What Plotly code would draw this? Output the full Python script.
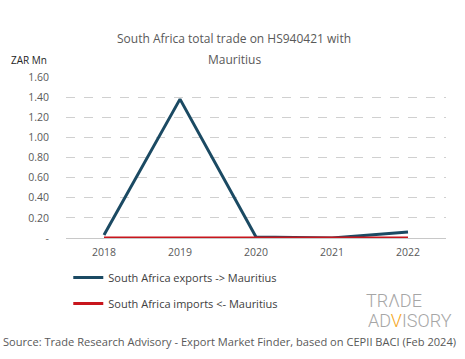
import plotly.graph_objects as go

years = ["2018", "2019", "2020", "2021", "2022"]
exports = [0.03, 1.38, 0.01, 0.0, 0.06]
imports = [0.0, 0.0, 0.005, 0.0, 0.0]
y_ticks = [0, 0.2, 0.4, 0.6, 0.8, 1.0, 1.2, 1.4, 1.6]
y_labels = ["-", "0.20", "0.40", "0.60", "0.80", "1.00", "1.20", "1.40", "1.60"]

FONT = "Open Sans"
fig = go.Figure()
fig.add_trace(go.Scatter(x=years, y=exports, mode="lines", name="South Africa exports -> Mauritius",
                         legendgroup="a", line=dict(color="#1b4a63", width=3)))
fig.add_trace(go.Scatter(x=years, y=imports, mode="lines", name="South Africa imports <- Mauritius",
                         legendgroup="b", line=dict(color="#c8161d", width=3)))

fig.update_layout(
    width=465, height=359,
    margin=dict(l=66, r=19, t=77, b=121),
    paper_bgcolor="white", plot_bgcolor="white",
    font=dict(family=FONT, size=11, color="#595959"),
    showlegend=True,
    legend=dict(x=0.006, y=-0.155, xanchor="left", yanchor="top", orientation="v",
                font=dict(size=11, color="#404040"), tracegroupgap=7, itemwidth=30,
                bgcolor="rgba(0,0,0,0)"),
    xaxis=dict(type="category", range=[-0.5, 4.5], showgrid=False, showline=False, ticks="",
               tickfont=dict(size=10.5, color="#595959"), ticklabelstandoff=6),
    yaxis=dict(range=[0, 1.6], tickvals=y_ticks, ticktext=y_labels, showgrid=True,
               gridcolor="#d0d0d0", griddash="dash", gridwidth=1, zeroline=True,
               zerolinecolor="#c8c8c8", zerolinewidth=1, ticks="", showline=False,
               tickfont=dict(size=10.5, color="#595959"), ticklabelstandoff=16),
)

fig.add_annotation(text="South Africa total trade on HS940421 with", xref="paper", yref="paper",
                   x=0.443, y=(238 - 38) / 161, xanchor="center", yanchor="middle", showarrow=False,
                   font=dict(size=12, color="#595959"))
fig.add_annotation(text="Mauritius", xref="paper", yref="paper",
                   x=0.443, y=(238 - 60) / 161, xanchor="center", yanchor="middle", showarrow=False,
                   font=dict(size=12, color="#595959"))
fig.add_annotation(text="ZAR Mn", xref="paper", yref="paper",
                   x=-57 / 380, y=(238 - 60) / 161, xanchor="left", yanchor="middle", showarrow=False,
                   font=dict(size=10, color="#262626"))
fig.add_annotation(text="TRΛDE", xref="paper", yref="paper",
                   x=(364 - 66) / 380, y=(238 - 300) / 161, xanchor="left", yanchor="middle",
                   showarrow=False, font=dict(size=18, color="#a6a6a6", family="Roboto", weight=300))
fig.add_annotation(text="AD<span style='color:#f5a623'>V</span>ISORY", xref="paper", yref="paper",
                   x=(366 - 66) / 380, y=(238 - 320) / 161, xanchor="left", yanchor="middle",
                   showarrow=False, font=dict(size=18, color="#a6a6a6", family="Roboto", weight=300))
fig.add_annotation(text="Source: Trade Research Advisory - Export Market Finder, based on CEPII BACI (Feb 2024)",
                   xref="paper", yref="paper", x=(1 - 66) / 380, y=(238 - 341) / 161,
                   xanchor="left", yanchor="middle", showarrow=False,
                   font=dict(size=11.1, color="#595959"))

fig.write_html("out.html", config={"displayModeBar": False},
               post_script="document.body.style.margin='0';")
